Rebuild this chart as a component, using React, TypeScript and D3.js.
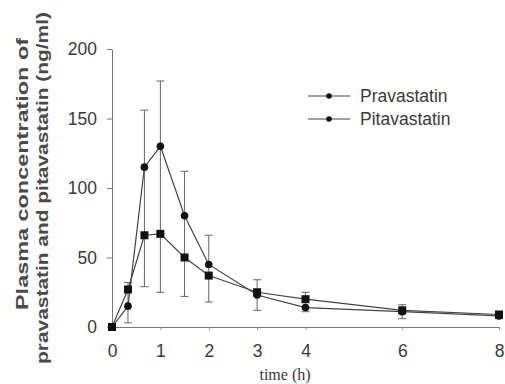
import React, { useEffect, useRef } from "react";
import * as d3 from "d3";

const times = [0, 0.33, 0.67, 1, 1.5, 2, 3, 4, 6, 8];
const pravaMean = [0, 15, 115, 130, 80, 45, 23, 14, 11, 8];
const pravaErr = [0, 12, 41, 47, 32, 21, 11, 3, 5, 2];
const pitaMean = [0, 27, 66, 67, 50, 37, 25, 20, 12, 9];
const pitaErr = [0, 5, 37, 42, 28, 19, 4, 5, 3, 2];
const xTicks = [0, 1, 2, 3, 4, 6, 8];
const yTicks = [0, 50, 100, 150, 200];
const seriesNames = ["Pravastatin", "Pitavastatin"];

const W = 505;
const H = 384;

export default function App() {
  const ref = useRef<SVGSVGElement | null>(null);

  useEffect(() => {
    const svg = d3.select(ref.current);
    svg.selectAll("*").remove();

    const x = d3.scaleLinear().domain([0, 8]).range([112, 499]);
    const y = d3.scaleLinear().domain([0, 200]).range([327, 49]);
    const ink = "#3a3a3a";

    // axes
    const yAxis = svg.append("g")
      .attr("transform", `translate(${x(0)},0)`)
      .call(d3.axisLeft(y).tickValues(yTicks).tickSize(5).tickSizeOuter(0).tickPadding(10));
    yAxis.select(".domain").attr("stroke", "#777");
    yAxis.selectAll(".tick line").attr("stroke", "#777");
    yAxis.selectAll(".tick text")
      .attr("font-family", "Liberation Sans, Arial, sans-serif")
      .attr("font-size", 17.5)
      .attr("fill", ink);

    const xAxis = svg.append("g")
      .attr("transform", `translate(0,${y(0)})`)
      .call(d3.axisBottom(x).tickValues(xTicks).tickSize(3).tickSizeOuter(0).tickPadding(15));
    xAxis.select(".domain").attr("stroke", "#777");
    xAxis.selectAll(".tick line").attr("stroke", "#999");
    xAxis.selectAll(".tick text")
      .attr("font-family", "Liberation Sans, Arial, sans-serif")
      .attr("font-size", 17.5)
      .attr("fill", ink);

    // error bars: one vertical span per time, capped at its ends
    const eg = svg.append("g").attr("stroke", "#666").attr("stroke-width", 1);
    times.forEach((t, i) => {
      if (pravaErr[i] === 0 && pitaErr[i] === 0) return;
      const lo = Math.max(0, Math.min(pravaMean[i] - pravaErr[i], pitaMean[i] - pitaErr[i]));
      const hi = Math.max(pravaMean[i] + pravaErr[i], pitaMean[i] + pitaErr[i]);
      eg.append("line").attr("x1", x(t)).attr("x2", x(t)).attr("y1", y(lo)).attr("y2", y(hi));
      [lo, hi].forEach(v => {
        if (v === 0) return;
        eg.append("line").attr("x1", x(t) - 4).attr("x2", x(t) + 4).attr("y1", y(v)).attr("y2", y(v));
      });
    });

    const line = d3.line<number>().x((d, i) => x(times[i])).y(d => y(d));

    // Pravastatin
    svg.append("path").datum(pravaMean).attr("d", line)
      .attr("fill", "none").attr("stroke", "#444").attr("stroke-width", 1.2);
    svg.append("g").selectAll("circle").data(pravaMean).join("circle")
      .attr("cx", (d, i) => x(times[i])).attr("cy", d => y(d)).attr("r", 3.8)
      .attr("fill", "#111");

    // Pitavastatin
    svg.append("path").datum(pitaMean).attr("d", line)
      .attr("fill", "none").attr("stroke", "#444").attr("stroke-width", 1.2);
    svg.append("g").selectAll("rect").data(pitaMean).join("rect")
      .attr("x", (d, i) => x(times[i]) - 4).attr("y", d => y(d) - 4)
      .attr("width", 8).attr("height", 8)
      .attr("fill", "#111");

    // legend
    const legend = svg.append("g");
    seriesNames.forEach((name, i) => {
      const ly = 96 + i * 23;
      legend.append("line").attr("x1", 308).attr("x2", 350).attr("y1", ly).attr("y2", ly)
        .attr("stroke", "#444").attr("stroke-width", 1.2);
      legend.append("circle").attr("cx", 329).attr("cy", ly).attr("r", 2.8).attr("fill", "#111");
      legend.append("text").attr("x", 360).attr("y", ly + 6)
        .attr("font-family", "Liberation Sans, Arial, sans-serif")
        .attr("font-size", 17.5).attr("fill", ink).text(name);
    });

    // axis titles
    svg.append("text")
      .attr("x", 285).attr("y", 380)
      .attr("text-anchor", "middle")
      .attr("font-family", "Liberation Serif, Times New Roman, serif")
      .attr("font-size", 16).attr("fill", ink)
      .text("time (h)");

    svg.append("text")
      .attr("transform", "translate(28,174) rotate(-90)")
      .attr("text-anchor", "middle")
      .attr("font-family", "Liberation Sans, Arial, sans-serif")
      .attr("font-weight", "bold").attr("font-size", 17).attr("fill", "#4a4a4a")
      .attr("textLength", 272).attr("lengthAdjust", "spacingAndGlyphs")
      .text("Plasma concentration of");
    svg.append("text")
      .attr("transform", "translate(48,188) rotate(-90)")
      .attr("text-anchor", "middle")
      .attr("font-family", "Liberation Sans, Arial, sans-serif")
      .attr("font-weight", "bold").attr("font-size", 17).attr("fill", "#4a4a4a")
      .attr("textLength", 352).attr("lengthAdjust", "spacingAndGlyphs")
      .text("pravastatin and pitavastatin (ng/ml)");
  }, []);

  return (
    <svg ref={ref} width={W} height={H}
      style={{ position: "absolute", left: 0, top: 0, background: "#fff" }} />
  );
}
